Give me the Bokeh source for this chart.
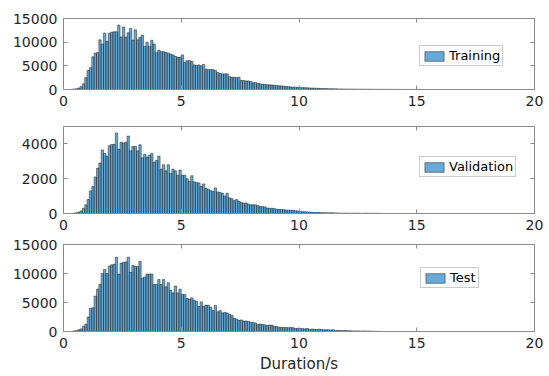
import numpy as np
from bokeh.plotting import figure
from bokeh.layouts import column
from bokeh.models import (LinearAxis, Legend, LegendItem, Range1d, FixedTicker,
                          ColumnDataSource)
from bokeh.embed import file_html
from bokeh.resources import INLINE

# histogram bins of 0.1 s from 0 to 20 s
bin_width = 0.1

training_counts = [
    0, 0, 0, 30, 100, 150, 300, 600, 1200, 2500,
    4000, 4600, 6900, 7700, 7800, 10500, 9600, 11900, 10200, 11900,
    12100, 12200, 12200, 13600, 11100, 13200, 11100, 12000, 12900, 10400,
    12600, 10500, 11000, 11500, 9100, 10000, 9100, 10400, 9600, 7800,
    8300, 8000, 8000, 7800, 7700, 7500, 7300, 7000, 6800, 6800,
    7300, 5700, 6100, 6100, 5900, 5200, 5100, 5200, 5000, 5300,
    4300, 4200, 4200, 4200, 4000, 3600, 3400, 3300, 3300, 3300,
    2700, 2600, 2600, 2500, 2600, 1900, 1900, 1800, 1800, 1700,
    1400, 1500, 1300, 1200, 1100, 1100, 1000, 1000, 950, 900,
    850, 800, 750, 700, 650, 600, 550, 500, 500, 450,
    420, 400, 380, 350, 330, 300, 280, 260, 240, 220,
    200, 190, 170, 160, 150, 140, 130, 120, 110, 100,
    90, 85, 80, 75, 70, 65, 60, 60, 55, 50,
    50, 45, 40, 40, 35, 35, 30, 30, 30, 25,
    25, 20, 20, 20, 15, 15, 15, 10, 10, 0,
]

validation_counts = [
    0, 0, 0, 0, 20, 40, 80, 150, 300, 500,
    800, 1300, 1550, 2100, 2600, 2900, 3650, 3450, 3300, 3900,
    3970, 3970, 4630, 3700, 4100, 4050, 4100, 4450, 3600, 3850,
    3850, 3600, 3950, 3200, 3400, 3250, 3350, 3450, 2950, 3050,
    3300, 2550, 2800, 2450, 2800, 2300, 2550, 2450, 2200, 2500,
    2200, 2200, 2000, 1840, 2170, 1820, 1780, 1760, 1550, 1700,
    1450, 1400, 1320, 1260, 1470, 1240, 1200, 1160, 1000, 1160,
    900, 850, 740, 800, 700, 640, 600, 600, 540, 500,
    500, 500, 450, 400, 400, 380, 320, 300, 300, 280,
    250, 230, 230, 220, 200, 190, 190, 180, 160, 140,
    120, 100, 100, 90, 80, 70, 60, 60, 60, 50,
    50, 40, 40, 40, 40, 30, 30, 20, 20, 20,
    20, 20, 10, 20, 10, 20, 10, 10, 20, 10,
    10, 10, 10, 10, 10, 0,
]

test_counts = [
    0, 0, 0, 0, 100, 150, 300, 450, 900, 1200,
    2500, 4000, 4100, 6100, 7300, 8150, 10000, 10700, 10000, 11300,
    11500, 11600, 12800, 9900, 11800, 11900, 12000, 12800, 10200, 11400,
    11200, 11200, 12100, 9200, 9400, 9900, 9900, 9900, 8100, 8100,
    8950, 8100, 8950, 7700, 8400, 7100, 6650, 7850, 6650, 7300,
    6400, 6400, 5700, 5550, 5800, 5400, 5200, 4300, 5100, 4300,
    4550, 4500, 4200, 3600, 4500, 3400, 3600, 3200, 3300, 3200,
    2950, 2800, 2300, 2150, 1900, 2000, 1800, 1800, 1750, 1600,
    1550, 1450, 1200, 1300, 1200, 1150, 1050, 1100, 1100, 900,
    850, 750, 700, 700, 700, 650, 700, 650, 500, 550,
    500, 500, 450, 500, 400, 400, 400, 350, 400, 350,
    300, 300, 300, 250, 300, 170, 170, 170, 150, 170,
    150, 150, 100, 100, 100, 100, 80, 100, 60, 80,
    60, 50, 30, 30, 0,
]

x_ticks = [0, 5, 10, 15, 20]
big_y_ticks = [0, 5000, 10000, 15000]
val_y_ticks = [0, 2000, 4000]

series_names = ["Training", "Validation", "Test"]
x_label = "Duration/s"

FONT = "DejaVu Sans"
TXT = "#262626"
AX = "#8a8a8a"


def style_axis(ax, labels=True):
    ax.axis_line_color = AX
    ax.axis_line_width = 1
    ax.major_tick_line_color = AX
    ax.major_tick_in = 4
    ax.major_tick_out = 0
    ax.minor_tick_in = 0
    ax.minor_tick_out = 0
    ax.minor_tick_line_color = None
    if labels:
        ax.major_label_text_font = FONT
        ax.major_label_text_font_size = "14px"
        ax.major_label_text_color = TXT
        ax.major_label_standoff = 6
    else:
        ax.major_label_text_font_size = "1px"
        ax.major_label_text_color = None
        ax.major_label_standoff = 0


def make_panel(counts, name, ymax, yticks, height, b_top, b_bottom, leg_loc):
    n = len(counts)
    left = [i * bin_width for i in range(n)]
    right = [(i + 1) * bin_width for i in range(n)]
    src = ColumnDataSource(dict(left=left, right=right, top=counts))
    p = figure(width=549, height=height, x_range=Range1d(0, 20),
               y_range=Range1d(0, ymax), output_backend="svg",
               toolbar_location=None, min_border_left=63, min_border_right=15,
               min_border_top=b_top, min_border_bottom=b_bottom)
    p.xgrid.visible = False
    p.ygrid.visible = False
    p.outline_line_color = None
    p.background_fill_color = "white"
    p.border_fill_color = "white"
    r = p.quad(left="left", right="right", bottom=0, top="top", source=src,
               fill_color="#0072BD", fill_alpha=0.6,
               line_color="#1f1f1f", line_width=0.5)
    bottom_ax = p.below[0]
    left_ax = p.left[0]
    bottom_ax.ticker = FixedTicker(ticks=x_ticks)
    left_ax.ticker = FixedTicker(ticks=yticks)
    style_axis(bottom_ax)
    style_axis(left_ax)
    top_ax = LinearAxis(ticker=FixedTicker(ticks=x_ticks))
    right_ax = LinearAxis(ticker=FixedTicker(ticks=yticks))
    style_axis(top_ax, labels=False)
    style_axis(right_ax, labels=False)
    p.add_layout(top_ax, "above")
    p.add_layout(right_ax, "right")

    legend = Legend(items=[LegendItem(label=name, renderers=[r])],
                    location=leg_loc, border_line_color="#9a9a9a",
                    border_line_width=1, background_fill_color="white",
                    background_fill_alpha=1.0, padding=2, margin=0, spacing=0,
                    glyph_width=24, glyph_height=12, label_standoff=3,
                    label_height=12, label_text_font=FONT,
                    label_text_font_size="13px", label_text_color="#000000")
    p.add_layout(legend, "center")
    return p, bottom_ax


p1, _ = make_panel(training_counts, series_names[0], 15000, big_y_ticks, 114, 18, 25, (356, 23))
p2, _ = make_panel(validation_counts, series_names[1], 5000, val_y_ticks, 122, 12, 23, (356, 36))
p3, ax3 = make_panel(test_counts, series_names[2], 15000, big_y_ticks, 140, 8, 45, (357, 43))

ax3.axis_label = x_label
ax3.axis_label_text_font = FONT
ax3.axis_label_text_font_size = "15px"
ax3.axis_label_text_font_style = "normal"
ax3.axis_label_text_color = TXT
ax3.axis_label_standoff = 4

layout = column(p1, p2, p3, spacing=0)

open("out.html", "w").write(file_html(layout, INLINE))
